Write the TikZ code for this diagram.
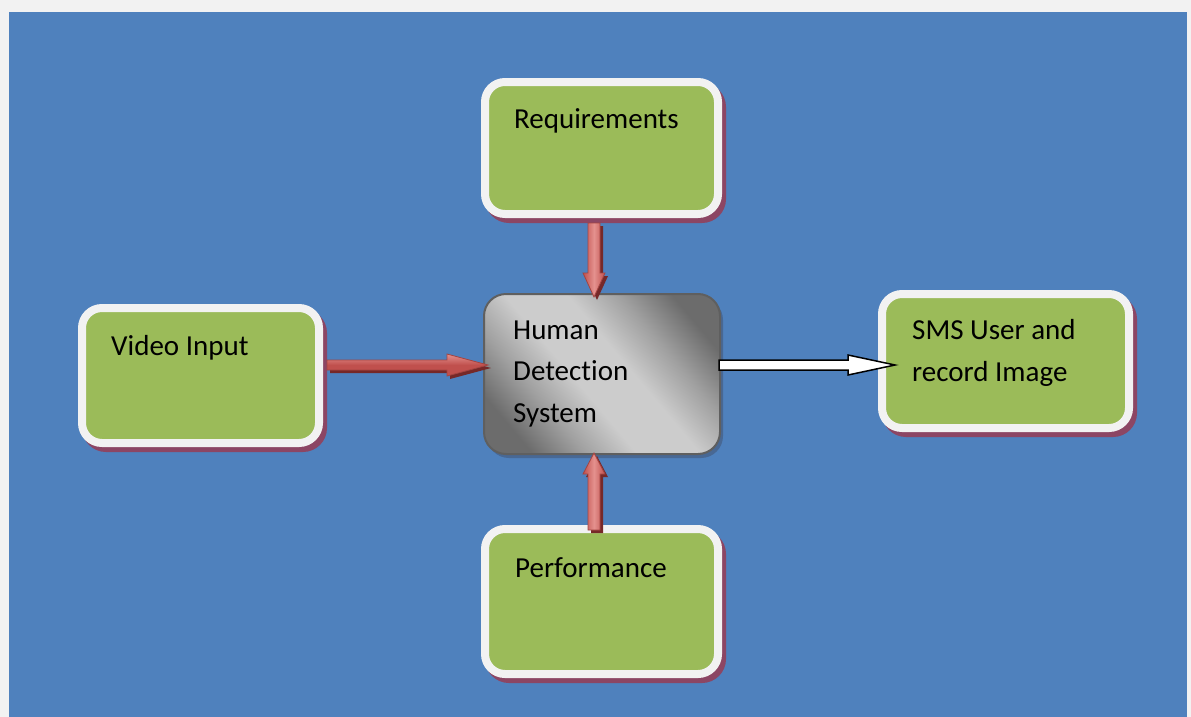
\documentclass[tikz,border=0pt]{standalone}
\usepackage{fontspec}
\setmainfont{Carlito}[Ligatures=NoCommon]
\usetikzlibrary{calc}

\definecolor{paper}{RGB}{242,242,242}
\definecolor{canvasblue}{RGB}{79,129,189}
\definecolor{boxgreen}{RGB}{155,187,89}
\definecolor{rim}{RGB}{242,242,242}
\definecolor{boxshadow}{RGB}{140,70,100}
\definecolor{arrowred}{RGB}{192,80,77}
\definecolor{arrowlight}{RGB}{228,145,142}
\definecolor{arrowdark}{RGB}{118,40,40}
\definecolor{steeldark}{RGB}{108,108,108}
\definecolor{steelmid}{RGB}{160,160,160}
\definecolor{steellight}{RGB}{204,204,204}
\definecolor{steelrim}{RGB}{95,95,95}
\definecolor{hdsshadow}{RGB}{72,104,148}

% brushed-steel fill: dark ends, broad light middle, soft transitions
\pgfdeclareverticalshading{chrome}{100bp}{color(0bp)=(steeldark); color(24bp)=(steeldark); color(34bp)=(steelmid); color(44bp)=(steellight); color(56bp)=(steellight); color(66bp)=(steelmid); color(76bp)=(steeldark); color(100bp)=(steeldark)}

% block arrow between two points: #1 style, #2 start, #3 tip,
% #4 shaft half width, #5 head half width, #6 head length
\newcommand\blockarrow[6]{%
  \coordinate (ba-base) at ($(#3)!#6!(#2)$);
  \path[#1] ($(#2)!#4!90:(#3)$) -- ($(ba-base)!#4!90:(#3)$) -- ($(ba-base)!#5!90:(#3)$)
    -- (#3) -- ($(ba-base)!#5!-90:(#3)$) -- ($(ba-base)!#4!-90:(#3)$) -- ($(#2)!#4!-90:(#3)$) -- cycle;}

\begin{document}
\begin{tikzpicture}[x=1pt,y=-1pt,
  greenbox/.style={rectangle, rounded corners=20pt, draw=rim, line width=8pt, fill=boxgreen, inner sep=0pt,
    preaction={fill=boxshadow, draw=boxshadow, transform canvas={xshift=4pt,yshift=-5pt}}},
  steelbox/.style={rectangle, rounded corners=22pt, draw=steelrim, line width=2pt, inner sep=0pt,
    shading=chrome, shading angle=-50,
    preaction={fill=hdsshadow, transform canvas={xshift=3pt,yshift=-4pt}}},
  boxtext/.style={anchor=base west, inner sep=0pt, align=left, font=\fontsize{29}{41.5}\selectfont},
  redshadow/.style={fill=arrowdark, transform canvas={xshift=3pt,yshift=-3pt}},
  redarrow v/.style={draw=arrowred!85!black, line width=0.8pt, left color=arrowred, right color=arrowred, middle color=arrowlight},
  redarrow h/.style={draw=arrowred!85!black, line width=0.8pt, top color=arrowlight, bottom color=arrowred, middle color=arrowred},
  whitearrow/.style={fill=white, draw=black, line width=1.5pt, line join=miter}]

\useasboundingbox (0,0) rectangle (1191,717);
\fill[paper] (0,0) rectangle (1191,717);
\fill[canvasblue] (9,12) rectangle (1187,717);

% blocks
\node[greenbox, minimum width=233pt, minimum height=132pt] (req) at (601.5,148) {};
\node[greenbox, minimum width=237pt, minimum height=135pt] (vid) at (200.5,375.5) {};
\node[greenbox, minimum width=247pt, minimum height=134pt] (sms) at (1005.5,361) {};
\node[greenbox, minimum width=233pt, minimum height=145pt] (perf) at (601.5,601.5) {};
\node[steelbox, minimum width=236pt, minimum height=160pt] (hds) at (602,374) {};

% arrow end points
\coordinate (rqs) at ($(req.south)+(-7.5,5)$);
\coordinate (rqe) at ($(rqs |- hds.north)+(0,4)$);
\coordinate (pfs) at ($(perf.north)+(-7.5,5)$);
\coordinate (pfe) at ($(pfs |- hds.south)+(0,-2)$);
\coordinate (vds) at ($(vid.east)+(4,-10.5)$);
\coordinate (vde) at ($(vds -| hds.west)+(5,0)$);
\coordinate (wts) at ($(hds.east)+(-2,-9)$);
\coordinate (wte) at ($(wts -| sms.west)+(17,0)$);

% arrows
\blockarrow{redshadow}{rqs}{rqe}{6pt}{11pt}{24pt}
\blockarrow{redarrow v}{rqs}{rqe}{6pt}{11pt}{24pt}
\blockarrow{redshadow}{pfs}{pfe}{6pt}{11pt}{21pt}
\blockarrow{redarrow v}{pfs}{pfe}{6pt}{11pt}{21pt}
\blockarrow{redshadow}{vds}{vde}{5pt}{11pt}{41pt}
\blockarrow{redarrow h}{vds}{vde}{5pt}{11pt}{41pt}
\blockarrow{whitearrow}{wts}{wte}{5pt}{10pt}{47pt}

% labels (multi-line labels sit on their last baseline)
\node[boxtext] (reqtxt) at (514,128) {Requirements};
\node[boxtext] (vidtxt) at (111,355) {Video Input};
\node[boxtext] (hdstxt) at (513,422) {Human\\Detection\\System};
\node[boxtext] (smstxt) at (912,381) {SMS User and\\record Image};
\node[boxtext] (perftxt) at (515,577) {Performance};
\end{tikzpicture}
\end{document}
